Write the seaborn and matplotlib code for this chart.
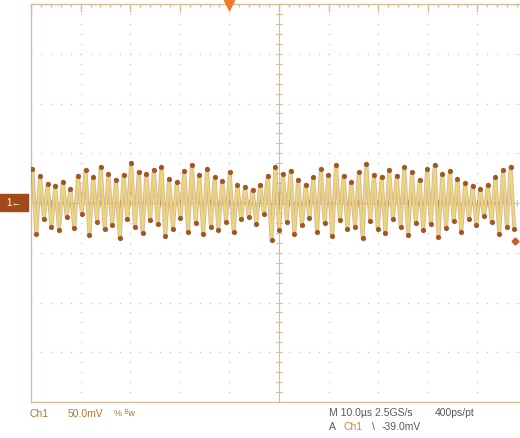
import numpy as np
import pandas as pd
import matplotlib
matplotlib.use("Agg")
import matplotlib.pyplot as plt
import seaborn as sns

# ---------------------------------------------------------------------------
# DATA (in divisions; 50 mV/div, 10 us/div)
# ---------------------------------------------------------------------------
peak_div = [
    0.62, 0.48, 0.32, 0.28, 0.36, 0.22, 0.48, 0.60, 0.46, 0.66, 0.52, 0.40, 0.50, 0.74, 0.55, 0.52,
    0.60, 0.66, 0.42, 0.35, 0.58, 0.70, 0.50, 0.62, 0.45, 0.38, 0.55, 0.30, 0.26, 0.20, 0.30, 0.48,
    0.66, 0.52, 0.58, 0.40, 0.30, 0.45, 0.62, 0.50, 0.70, 0.48, 0.36, 0.55, 0.72, 0.50, 0.46, 0.60,
    0.48, 0.65, 0.55, 0.40, 0.62, 0.70, 0.52, 0.58, 0.42, 0.34, 0.28, 0.22, 0.30, 0.45, 0.60, 0.66,
]
trough_div = [
    -0.70, -0.40, -0.55, -0.62, -0.35, -0.58, -0.30, -0.72, -0.45, -0.60, -0.52, -0.78, -0.40, -0.55, -0.68, -0.42,
    -0.50, -0.74, -0.60, -0.38, -0.65, -0.48, -0.70, -0.55, -0.62, -0.45, -0.66, -0.40, -0.35, -0.50, -0.30, -0.82,
    -0.62, -0.45, -0.70, -0.52, -0.38, -0.66, -0.48, -0.74, -0.42, -0.60, -0.55, -0.78, -0.44, -0.60, -0.68, -0.40,
    -0.55, -0.72, -0.48, -0.62, -0.50, -0.76, -0.58, -0.44, -0.66, -0.40, -0.52, -0.34, -0.46, -0.70, -0.55, -0.60,
]
dc_offset_div = 0.07
cycle_div = 0.153          # one carrier cycle in horizontal divisions
start_div = 0.03

footer_left = ["Ch1", "50.0mV", "% ᴮw"]
footer_right_1 = ["M 10.0µs 2.5GS/s", "400ps/pt"]
footer_right_2 = ["A", "Ch1", "\\", "-39.0mV"]

# ---------------------------------------------------------------------------
# build the trace
# ---------------------------------------------------------------------------
t, v = [], []
for i, (p, q) in enumerate(zip(peak_div, trough_div)):
    t += [start_div + i * cycle_div, start_div + (i + 0.5) * cycle_div]
    v += [p + dc_offset_div, q + dc_offset_div]
df = pd.DataFrame({"t": t, "v": v})

W, H = 520, 439
sns.set_style("white")
plt.rcParams["font.family"] = ["Liberation Sans", "DejaVu Sans"]

fig = plt.figure(figsize=(W / 100, H / 100), dpi=100)
ax = fig.add_axes([31 / W, 36 / H, 496 / W, 398 / H])
ax.set_xlim(0, 10)
ax.set_ylim(-4, 4)

frame = "#d2bf9c"
for s in ax.spines.values():
    s.set_color(frame)
    s.set_linewidth(1.0)
ax.set_xticks(np.arange(0, 11, 1))
ax.set_yticks(np.arange(-4, 5, 1))
ax.set_xticks(np.arange(0, 10.01, 0.2), minor=True)
ax.set_yticks(np.arange(-4, 4.01, 0.2), minor=True)
ax.tick_params(which="both", direction="in", top=True, right=True,
               labelbottom=False, labelleft=False, color=frame, width=1.0)
ax.tick_params(which="major", length=6)
ax.tick_params(which="minor", length=2.5)

# dotted graticule
dots = np.arange(0, 10.01, 0.2)
for gx in range(1, 10):
    if gx == 5:
        continue
    ax.scatter(np.full(41, gx), np.arange(-4, 4.01, 0.2), s=1.2, color="#cacaca", lw=0, zorder=1)
for gy in range(-3, 4):
    if gy == 0:
        continue
    ax.scatter(dots, np.full(len(dots), gy), s=1.2, color="#cacaca", lw=0, zorder=1)

# centre crosshair with ticks
ax.axvline(5, color=frame, lw=0.8, zorder=1)
ax.axhline(0, color="#e6dca0", lw=1.0, zorder=1)
for yy in np.arange(-4, 4.01, 0.2):
    ax.plot([4.93, 5.07], [yy, yy], color=frame, lw=0.8, zorder=1)
for xx in dots:
    ax.plot([xx, xx], [-0.07, 0.07], color=frame, lw=0.8, zorder=1)

# trace (persistence look: brown halo, yellow core, brown peaks)
sns.lineplot(data=df, x="t", y="v", ax=ax, color="#b0622a", lw=2.8, alpha=0.45, zorder=3)
sns.lineplot(data=df, x="t", y="v", ax=ax, color="#ead878", lw=1.4, zorder=4)
sns.scatterplot(data=df, x="t", y="v", ax=ax, color="#9a4a16", s=14, lw=0, alpha=0.9, zorder=5)
ax.set_xlabel("")
ax.set_ylabel("")

# trigger position / level markers
ax.plot(4, 3.97, marker="v", color="#f07a2a", ms=7, clip_on=False, zorder=6)
ax.plot(9.75, -0.77, marker="D", color="#c0602a", ms=3.5, clip_on=False, zorder=6)

# channel ground marker
fig.patches.append(plt.Rectangle((0, 1 - 212 / H), 28 / W, 17 / H, transform=fig.transFigure,
                                 color="#a34a1a", zorder=10))
fig.text(6 / W, 1 - 203.5 / H, "1←", color="white", fontsize=7, va="center", ha="left", zorder=11)

# footer readouts
brown = "#b8743a"
grey = "#585858"
fig.text(30 / W, 1 - 414 / H, footer_left[0], color=brown, fontsize=7.5, va="center")
fig.text(68 / W, 1 - 414 / H, footer_left[1], color=brown, fontsize=7.5, va="center")
fig.text(114 / W, 1 - 414 / H, footer_left[2], color=brown, fontsize=6.5, va="center")
fig.text(329 / W, 1 - 413 / H, footer_right_1[0], color=grey, fontsize=7.5, va="center")
fig.text(435 / W, 1 - 413 / H, footer_right_1[1], color=grey, fontsize=7.5, va="center")
fig.text(329 / W, 1 - 427 / H, footer_right_2[0], color=grey, fontsize=7.5, va="center")
fig.text(343 / W, 1 - 427 / H, footer_right_2[1], color="#d9822b", fontsize=7.5, va="center")
fig.text(372 / W, 1 - 427 / H, footer_right_2[2], color=grey, fontsize=7.5, va="center")
fig.text(382 / W, 1 - 427 / H, footer_right_2[3], color=grey, fontsize=7.5, va="center")

fig.savefig("out.png", dpi=100, facecolor="white")
